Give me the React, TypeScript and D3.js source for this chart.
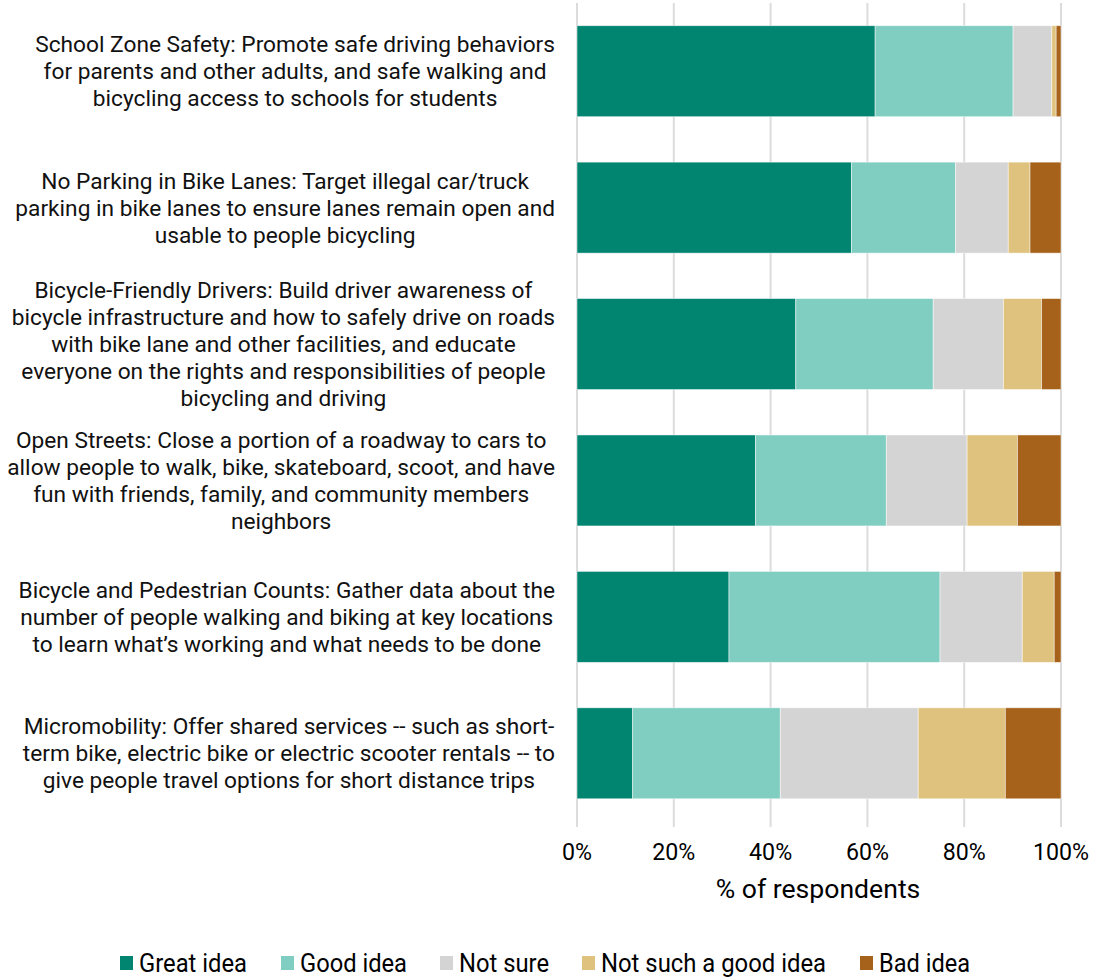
import React, { useRef, useEffect } from "react";
import * as d3 from "d3";

const categories = [
  "School Zone Safety: Promote safe driving behaviors|for parents and other adults, and safe walking and|bicycling access to schools for students",
  "No Parking in Bike Lanes: Target illegal car/truck|parking in bike lanes to ensure lanes remain open and|usable to people bicycling",
  "Bicycle-Friendly Drivers: Build driver awareness of|bicycle infrastructure and how to safely drive on roads|with bike lane and other facilities, and educate|everyone on the rights and responsibilities of people|bicycling and driving",
  "Open Streets: Close a portion of a roadway to cars to|allow people to walk, bike, skateboard, scoot, and have|fun with friends, family, and community members|neighbors",
  "Bicycle and Pedestrian Counts: Gather data about the|number of people walking and biking at key locations|to learn what\u2019s working and what needs to be done",
  "Micromobility: Offer shared services -- such as short-|term bike, electric bike or electric scooter rentals -- to|give people travel options for short distance trips",
];

const seriesNames = ["Great idea", "Good idea", "Not sure", "Not such a good idea", "Bad idea"];
const seriesColors = ["#018571", "#80cdc1", "#d4d4d4", "#dfc27d", "#a6611a"];

// percent of respondents per category
const greatIdea = [61.6, 56.7, 45.2, 36.9, 31.4, 11.5];
const goodIdea = [28.5, 21.5, 28.4, 27.0, 43.6, 30.5];
const notSure = [8.0, 10.9, 14.5, 16.7, 17.0, 28.5];
const notSuchGood = [0.9, 4.5, 7.9, 10.4, 6.6, 18.0];
const badIdea = [1.0, 6.4, 4.0, 9.0, 1.4, 11.5];

const xTicks = [0, 20, 40, 60, 80, 100];

export default function App() {
  const svgRef = useRef<SVGSVGElement>(null);

  useEffect(() => {
    const width = 1095;
    const height = 978;
    const left = 577;
    const right = 1061;
    const top = 3;
    const bottom = 821.5;
    const gridBottom = 827;
    const font = "Roboto, sans-serif";

    const svg = d3.select(svgRef.current)
      .attr("width", width)
      .attr("height", height)
      .attr("viewBox", [0, 0, width, height].join(" "));

    svg.selectAll("*").remove();

    const rows = categories.map((c, i) => ({
      cat: c,
      [seriesNames[0]]: greatIdea[i],
      [seriesNames[1]]: goodIdea[i],
      [seriesNames[2]]: notSure[i],
      [seriesNames[3]]: notSuchGood[i],
      [seriesNames[4]]: badIdea[i],
    }));

    const stacked = d3.stack<any>().keys(seriesNames)(rows);

    const x = d3.scaleLinear().domain([0, 100]).range([left, right]);
    const y = d3.scaleBand()
      .domain(categories)
      .range([top, bottom])
      .paddingInner(0.333)
      .paddingOuter(0.1665);
    const color = d3.scaleOrdinal<string>().domain(seriesNames).range(seriesColors);

    // grid
    svg.append("g")
      .selectAll("line")
      .data(xTicks)
      .join("line")
        .attr("x1", d => x(d))
        .attr("x2", d => x(d))
        .attr("y1", top)
        .attr("y2", gridBottom)
        .attr("stroke", "#dcdcdc")
        .attr("stroke-width", 2);

    // bars
    svg.append("g")
      .selectAll("g")
      .data(stacked)
      .join("g")
        .attr("fill", d => color(d.key))
      .selectAll("rect")
      .data(d => d)
      .join("rect")
        .attr("x", d => x(d[0]))
        .attr("y", d => y(d.data.cat)!)
        .attr("width", d => x(d[1]) - x(d[0]))
        .attr("height", y.bandwidth())
        .attr("stroke", "#ffffff")
        .attr("stroke-opacity", 0.6)
        .attr("stroke-width", 0.8);

    // x tick labels
    svg.append("g")
      .selectAll("text")
      .data(xTicks)
      .join("text")
        .attr("x", d => x(d))
        .attr("y", 852)
        .attr("dy", "0.35em")
        .attr("text-anchor", "middle")
        .attr("font-family", font)
        .attr("font-size", 23.2)
        .attr("fill", "#000")
        .text(d => d + "%");

    svg.append("text")
      .attr("x", 818)
      .attr("y", 889)
      .attr("dy", "0.35em")
      .attr("text-anchor", "middle")
      .attr("font-family", font)
      .attr("font-size", 26.6)
      .attr("fill", "#000")
      .text("% of respondents");

    // category labels: block right-aligned at 555, lines centred inside block
    const lineH = 27;
    categories.forEach(c => {
      const lines = c.split("|");
      const g = svg.append("g");
      const cy = y(c)! + y.bandwidth() / 2;
      const texts = g.selectAll("text")
        .data(lines)
        .join("text")
          .attr("y", (d, i) => cy + (i - (lines.length - 1) / 2) * lineH)
          .attr("dy", "0.35em")
          .attr("text-anchor", "middle")
          .attr("font-family", font)
          .attr("font-size", 22.7)
          .attr("fill", "#111")
          .text(d => d);
      let maxW = 0;
      texts.each(function () {
        maxW = Math.max(maxW, (this as SVGTextElement).getComputedTextLength());
      });
      texts.attr("x", 555 - maxW / 2);
    });

    // legend
    const legendX = [120, 281, 440, 582, 860];
    const legendW = [108, 107, 90, 225, 91];
    const lg = svg.append("g")
      .selectAll("g")
      .data(seriesNames)
      .join("g")
        .attr("transform", (d, i) => `translate(${legendX[i]},963)`);
    lg.append("rect")
      .attr("x", 0)
      .attr("y", -7)
      .attr("width", 13)
      .attr("height", 14)
      .attr("fill", d => color(d));
    lg.append("text")
      .attr("x", 19)
      .attr("y", 0)
      .attr("dy", "0.36em")
      .attr("font-family", font)
      .attr("font-size", 25)
      .attr("textLength", (d, i) => legendW[i])
      .attr("lengthAdjust", "spacingAndGlyphs")
      .attr("fill", "#000")
      .text(d => d);
  }, []);

  return <svg ref={svgRef} style={{ position: "absolute", left: 0, top: 0 }}></svg>;
}
